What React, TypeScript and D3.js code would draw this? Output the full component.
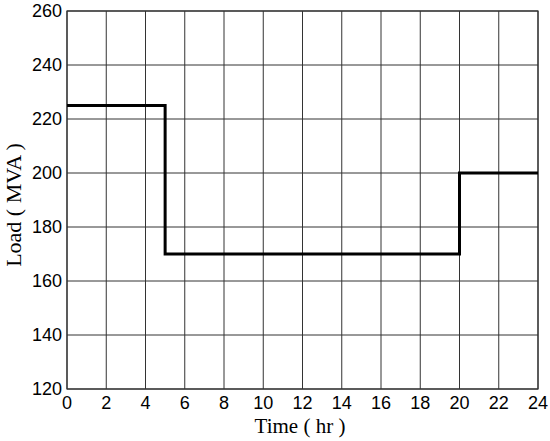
import React from 'react';
import * as d3 from 'd3';

const width = 550;
const height = 441;
const margin = { left: 67, right: 12, top: 11, bottom: 52 };

// step points: load holds from each hour until the next one
const hours = [0, 5, 20, 24];
const loads = [225, 170, 200, 200];
const xTicks = [0, 2, 4, 6, 8, 10, 12, 14, 16, 18, 20, 22, 24];
const yTicks = [120, 140, 160, 180, 200, 220, 240, 260];

const x = d3.scaleLinear().domain([0, 24]).range([margin.left, width - margin.right]);
const y = d3.scaleLinear().domain([120, 260]).range([height - margin.bottom, margin.top]);

const stepLine = d3
  .line<number>()
  .x((d, i) => x(hours[i]))
  .y((d) => y(d))
  .curve(d3.curveStepAfter);

export default function App() {
  const x0 = x(0);
  const x1 = x(24);
  const y0 = y(120);
  const y1 = y(260);
  return (
    <svg
      width={width}
      height={height}
      style={{ position: 'absolute', left: 0, top: 0, background: '#fff' }}
    >
      <rect x={0} y={0} width={width} height={height} fill="#fff" />
      {xTicks.map((t) => (
        <line key={'gx' + t} x1={x(t)} x2={x(t)} y1={y1} y2={y0} stroke="#333" strokeWidth={1} />
      ))}
      {yTicks.map((t) => (
        <line key={'gy' + t} x1={x0} x2={x1} y1={y(t)} y2={y(t)} stroke="#333" strokeWidth={1} />
      ))}
      <rect x={x0} y={y1} width={x1 - x0} height={y0 - y1} fill="none" stroke="#333" strokeWidth={1.2} />
      <path d={stepLine(loads) || ''} fill="none" stroke="#000" strokeWidth={3} />
      {xTicks.map((t) => (
        <text
          key={'tx' + t}
          x={x(t)}
          y={y0 + 20}
          textAnchor="middle"
          fontFamily="Liberation Sans, Arial, sans-serif"
          fontSize={18}
          fill="#000"
        >
          {t}
        </text>
      ))}
      {yTicks.map((t) => (
        <text
          key={'ty' + t}
          x={x0 - 5}
          y={y(t) + 6}
          textAnchor="end"
          fontFamily="Liberation Sans, Arial, sans-serif"
          fontSize={18}
          fill="#000"
        >
          {t}
        </text>
      ))}
      <text
        x={300}
        y={433}
        textAnchor="middle"
        fontFamily="Liberation Serif, Times New Roman, serif"
        fontSize={21}
        fill="#000"
      >
        Time ( hr )
      </text>
      <text
        transform={`translate(21, 205) rotate(-90)`}
        textAnchor="middle"
        fontFamily="Liberation Serif, Times New Roman, serif"
        fontSize={22}
        fill="#000"
      >
        Load ( MVA )
      </text>
    </svg>
  );
}
